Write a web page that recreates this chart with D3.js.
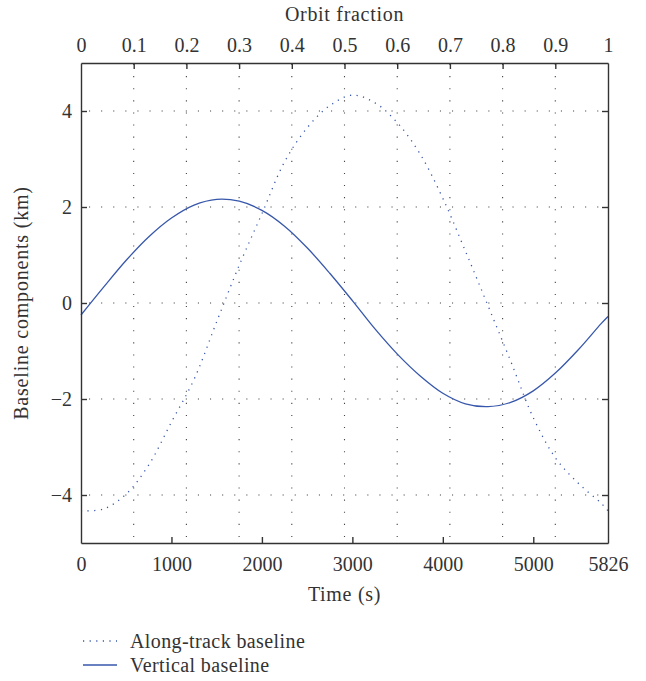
<!DOCTYPE html>
<html>
<head>
<meta charset="utf-8">
<script src="https://cdn.jsdelivr.net/npm/d3@7"></script>
<style>
  html, body { margin: 0; padding: 0; background: #fff; }
  svg text { font-family: "Liberation Serif", "DejaVu Serif", serif; fill: #333; }
</style>
</head>
<body>
<svg id="chart" width="646" height="681"></svg>
<script>
// Orbit period (s) and sample times along one orbit
const orbitPeriod = 5826;
const timeSamples = [0, 250, 500, 750, 1000, 1250, 1500, 1750, 2000, 2250, 2500, 2750,
  3000, 3250, 3500, 3750, 4000, 4250, 4500, 4750, 5000, 5250, 5500, 5750, 5826];

// Baseline components (km)
const alongTrack = [-4.33, -4.29, -3.98, -3.37, -2.48, -1.59, -0.39, 0.79, 1.86, 2.94, 3.65, 4.11,
  4.33, 4.17, 3.75, 3.10, 2.18, 1.08, -0.06, -1.21, -2.39, -3.24, -3.76, -4.17, -4.33];
const vertical = [-0.25, 0.33, 0.89, 1.38, 1.77, 2.04, 2.16, 2.12, 1.93, 1.60, 1.15, 0.62,
  0.05, -0.54, -1.07, -1.52, -1.88, -2.10, -2.16, -2.07, -1.83, -1.45, -0.97, -0.43, -0.28];

// Tick values
const timeTicks = [0, 1000, 2000, 3000, 4000, 5000, 5826];
const fractionTicks = [0, 0.1, 0.2, 0.3, 0.4, 0.5, 0.6, 0.7, 0.8, 0.9, 1];
const yTicks = [-4, -2, 0, 2, 4];

const seriesNames = ["Along-track baseline", "Vertical baseline"];

const svg = d3.select("#chart");
const plotLeft = 81, plotRight = 608, plotTop = 63, plotBottom = 543;
const ink = "#333";
const lineColor = "#3757ab";
const fontSize = 20;

const x = d3.scaleLinear().domain([0, orbitPeriod]).range([plotLeft, plotRight]);
const xf = d3.scaleLinear().domain([0, 1]).range([plotLeft, plotRight]);
const y = d3.scaleLinear().domain([-5, 5]).range([plotBottom, plotTop]);

// Dotted grid: vertical lines at orbit fractions, horizontal at y ticks
const grid = svg.append("g").attr("stroke", "#444").attr("stroke-width", 1.1)
  .attr("stroke-dasharray", "1.1,11");
grid.selectAll("line.v").data(fractionTicks.slice(1, -1)).join("line")
  .attr("class", "v")
  .attr("x1", d => xf(d)).attr("x2", d => xf(d))
  .attr("y1", plotBottom - 6).attr("y2", plotTop);
grid.selectAll("line.h").data(yTicks).join("line")
  .attr("class", "h")
  .attr("x1", plotLeft + 8).attr("x2", plotRight)
  .attr("y1", d => y(d)).attr("y2", d => y(d));

// Curves
const pts = arr => arr.map((v, i) => [timeSamples[i], v]);
const line = d3.line().x(d => x(d[0])).y(d => y(d[1])).curve(d3.curveCatmullRom.alpha(0.5));

svg.append("path").datum(pts(alongTrack))
  .attr("d", line).attr("fill", "none")
  .attr("stroke", lineColor).attr("stroke-width", 1.3)
  .attr("stroke-dasharray", "1.2,5.4");
svg.append("path").datum(pts(vertical))
  .attr("d", line).attr("fill", "none")
  .attr("stroke", lineColor).attr("stroke-width", 1.3);

// Axes with inward ticks
const fmt = d => String(d).replace("-", "\u2212");
const bottomAxis = d3.axisBottom(x).tickValues(timeTicks).tickSizeInner(-6).tickSizeOuter(0)
  .tickPadding(14).tickFormat(fmt);
const topAxis = d3.axisTop(xf).tickValues(fractionTicks).tickSizeInner(-6).tickSizeOuter(0)
  .tickPadding(11).tickFormat(d => String(d));
const leftAxis = d3.axisLeft(y).tickValues(yTicks).tickSizeInner(-6).tickSizeOuter(0)
  .tickPadding(9).tickFormat(fmt);
const rightAxis = d3.axisRight(y).tickValues(yTicks).tickSizeInner(-6).tickSizeOuter(0)
  .tickFormat("");

function style(g) {
  g.attr("font-family", null).attr("font-size", null);
  g.selectAll(".domain").attr("stroke", ink).attr("stroke-width", 1.4);
  g.selectAll(".tick line").attr("stroke", ink).attr("stroke-width", 1.4);
  g.selectAll(".tick text").attr("font-size", fontSize).attr("fill", ink);
}

svg.append("g").attr("transform", `translate(0,${plotBottom})`).call(bottomAxis).call(style);
svg.append("g").attr("transform", `translate(0,${plotTop})`).call(topAxis).call(style);
svg.append("g").attr("transform", `translate(${plotLeft},0)`).call(leftAxis).call(style);
svg.append("g").attr("transform", `translate(${plotRight},0)`).call(rightAxis).call(style);

// Ticks sitting on the frame corners are not needed
svg.selectAll(".tick").filter(d => d === 0 || d === orbitPeriod || d === 1)
  .filter(function () { return this.parentNode.getAttribute("transform").startsWith("translate(0"); })
  .select("line").remove();

// Axis titles
svg.append("text").attr("x", (plotLeft + plotRight) / 2).attr("y", 21)
  .attr("text-anchor", "middle").attr("font-size", fontSize)
  .attr("letter-spacing", 0.7).text("Orbit fraction");
svg.append("text").attr("x", (plotLeft + plotRight) / 2).attr("y", 601)
  .attr("text-anchor", "middle").attr("font-size", fontSize)
  .attr("letter-spacing", 0.7).text("Time (s)");
svg.append("text").attr("transform", `translate(28,${(plotTop + plotBottom) / 2}) rotate(-90)`)
  .attr("text-anchor", "middle").attr("font-size", fontSize)
  .attr("letter-spacing", 0.8).text("Baseline components (km)");

// Legend
const legend = svg.append("g");
const legendRows = [{ name: seriesNames[0], dash: "1.2,5.4", y: 641 },
                    { name: seriesNames[1], dash: null, y: 665 }];
legendRows.forEach(r => {
  legend.append("line").attr("x1", 83).attr("x2", 117).attr("y1", r.y).attr("y2", r.y)
    .attr("stroke", lineColor).attr("stroke-width", 1.3)
    .attr("stroke-dasharray", r.dash);
  legend.append("text").attr("x", 130).attr("y", r.y + 6.5)
    .attr("font-size", fontSize).attr("letter-spacing", 0.4).text(r.name);
});
</script>
</body>
</html>
